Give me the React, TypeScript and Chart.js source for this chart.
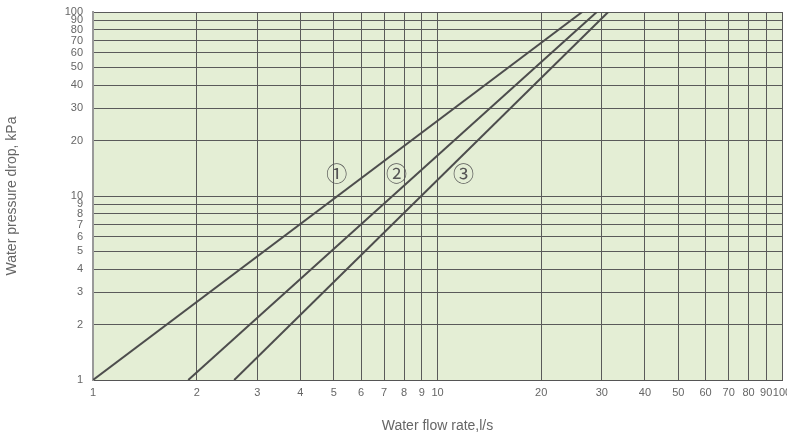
import React, { useEffect, useRef } from "react";
import { Chart, registerables } from "chart.js";

Chart.register(...registerables);

const xTicks = [1, 2, 3, 4, 5, 6, 7, 8, 9, 10, 20, 30, 40, 50, 60, 70, 80, 90, 100];
const yTicks = [1, 2, 3, 4, 5, 6, 7, 8, 9, 10, 20, 30, 40, 50, 60, 70, 80, 90, 100];

const line1 = [
  { x: 1, y: 1 },
  { x: 26.3, y: 100 },
];
const line2 = [
  { x: 1.89, y: 1 },
  { x: 29, y: 100 },
];
const line3 = [
  { x: 2.57, y: 1 },
  { x: 31.3, y: 100 },
];

const curveLabels = ["①", "②", "③"];
const labelX = [5.1, 7.6, 11.9];
const labelY = [13.3, 13.3, 13.3];

const bgPlugin = {
  id: "plotBg",
  beforeDraw(chart: any) {
    const { ctx, chartArea } = chart;
    ctx.save();
    ctx.fillStyle = "#e4eed5";
    ctx.fillRect(chartArea.left, chartArea.top, chartArea.right - chartArea.left, chartArea.bottom - chartArea.top);
    ctx.restore();
  },
};

const labelPlugin = {
  id: "curveLabels",
  afterDatasetsDraw(chart: any) {
    const { ctx, scales } = chart;
    ctx.save();
    ctx.fillStyle = "#555555";
    ctx.font = "21px 'Noto Sans CJK JP'";
    ctx.textAlign = "center";
    ctx.textBaseline = "middle";
    curveLabels.forEach((t, i) => {
      ctx.fillText(t, scales.x.getPixelForValue(labelX[i]), scales.y.getPixelForValue(labelY[i]));
    });
    ctx.restore();
  },
};

export default function App() {
  const ref = useRef<HTMLCanvasElement>(null);
  useEffect(() => {
    document.body.style.margin = "0";
    const lineStyle = {
      borderColor: "#4d4d4d",
      borderWidth: 2,
      showLine: true,
      pointRadius: 0,
      fill: false,
    };
    const chart = new Chart(ref.current as HTMLCanvasElement, {
      type: "scatter",
      data: {
        datasets: [
          { label: "1", data: line1, ...lineStyle },
          { label: "2", data: line2, ...lineStyle },
          { label: "3", data: line3, ...lineStyle },
        ],
      },
      options: {
        animation: false,
        responsive: false,
        layout: { padding: { left: 0, top: 12, right: 5, bottom: 0 } },
        plugins: { legend: { display: false }, tooltip: { enabled: false } },
        scales: {
          x: {
            type: "logarithmic",
            min: 1,
            max: 100,
            afterBuildTicks: (s: any) => {
              s.ticks = xTicks.map((v) => ({ value: v }));
            },
            afterFit: (s: any) => {
              s.height = 59;
              s.paddingLeft = 0;
              s.paddingRight = 0;
            },
            ticks: {
              autoSkip: false,
              maxRotation: 0,
              padding: 6,
              color: "#666666",
              font: { family: "'Liberation Sans', Arial", size: 11 },
              callback: (v: any) => String(v),
            },
            grid: { color: "#5a5a5a", lineWidth: 1, drawTicks: false },
            border: { color: "#555555", width: 1 },
            title: {
              display: true,
              text: "Water flow rate,l/s",
              color: "#666666",
              font: { family: "'Liberation Sans', Arial", size: 14 },
              padding: { top: 0, bottom: 4 },
            },
          },
          y: {
            type: "logarithmic",
            min: 1,
            max: 100,
            afterBuildTicks: (s: any) => {
              s.ticks = yTicks.map((v) => ({ value: v }));
            },
            afterFit: (s: any) => {
              s.width = 93;
              s.paddingTop = 0;
              s.paddingBottom = 0;
            },
            ticks: {
              autoSkip: false,
              padding: 10,
              color: "#666666",
              font: { family: "'Liberation Sans', Arial", size: 11 },
              callback: (v: any) => String(v),
            },
            grid: { color: "#5a5a5a", lineWidth: 1, drawTicks: false },
            border: { color: "#999999", width: 2 },
            title: {
              display: true,
              text: "Water pressure drop, kPa",
              color: "#666666",
              font: { family: "'Liberation Sans', Arial", size: 14 },
              padding: { top: 4, bottom: 0 },
            },
          },
        },
      },
      plugins: [bgPlugin, labelPlugin],
    });
    return () => chart.destroy();
  }, []);
  return <canvas ref={ref} width={787} height={439} style={{ display: "block" }} />;
}
